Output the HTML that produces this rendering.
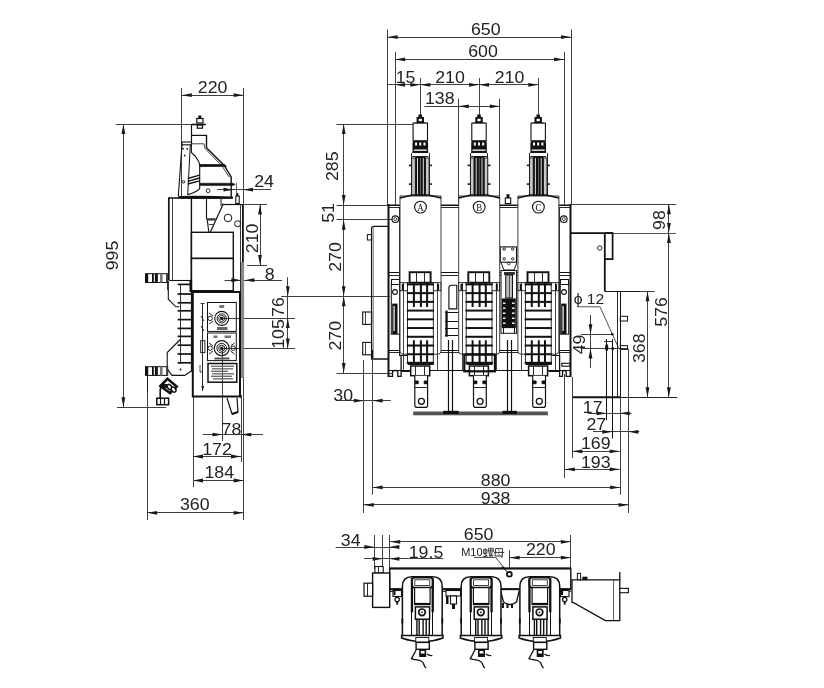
<!DOCTYPE html>
<html><head><meta charset="utf-8"><style>
html,body{margin:0;padding:0;background:#fff;}
svg{display:block;}
text{font-family:"Liberation Sans",sans-serif;}
</style></head><body>
<div style="will-change:transform;width:824px;height:688px"><svg width="824" height="688" viewBox="0 0 824 688">
<rect width="824" height="688" fill="#fff"/>
<line x1="181.5" y1="88" x2="181.5" y2="198" stroke="#404040" stroke-width="1.0"/>
<line x1="243.5" y1="88" x2="243.5" y2="520" stroke="#404040" stroke-width="1.0"/>
<line x1="181.8" y1="95.5" x2="243.7" y2="95.5" stroke="#404040" stroke-width="1.0"/>
<polygon points="181.8,95.2 191.8,93.3 191.8,97.1" fill="#1a1a1a"/>
<polygon points="243.7,95.2 233.7,93.3 233.7,97.1" fill="#1a1a1a"/>
<text transform="translate(212.6,92.5) scale(1.045,1)" x="0" y="0" text-anchor="middle" font-size="17" fill="#222">220</text>
<line x1="116" y1="124.5" x2="205" y2="124.5" stroke="#404040" stroke-width="1.0"/>
<line x1="117" y1="407.5" x2="166" y2="407.5" stroke="#404040" stroke-width="1.0"/>
<line x1="123.5" y1="124" x2="123.5" y2="407.3" stroke="#404040" stroke-width="1.0"/>
<polygon points="123.4,124.0 121.5,134.0 125.3,134.0" fill="#1a1a1a"/>
<polygon points="123.4,407.3 121.5,397.3 125.3,397.3" fill="#1a1a1a"/>
<text transform="translate(118.1,255.5) rotate(-90) scale(1.045,1)" x="0" y="0" text-anchor="middle" font-size="17" fill="#222">995</text>
<line x1="217" y1="189.5" x2="271" y2="189.5" stroke="#404040" stroke-width="1.0"/>
<polygon points="233.5,189.7 223.5,187.8 223.5,191.6" fill="#1a1a1a"/>
<polygon points="243.0,189.7 253.0,187.8 253.0,191.6" fill="#1a1a1a"/>
<text transform="translate(264,187.4) scale(1.045,1)" x="0" y="0" text-anchor="middle" font-size="17" fill="#222">24</text>
<line x1="241" y1="204.5" x2="267" y2="204.5" stroke="#404040" stroke-width="1.0"/>
<line x1="247" y1="265.5" x2="267" y2="265.5" stroke="#404040" stroke-width="1.0"/>
<line x1="260.5" y1="204.4" x2="260.5" y2="265" stroke="#404040" stroke-width="1.0"/>
<polygon points="260.0,204.4 258.1,214.4 261.9,214.4" fill="#1a1a1a"/>
<polygon points="260.0,265.0 258.1,255.0 261.9,255.0" fill="#1a1a1a"/>
<text transform="translate(258.2,238.4) rotate(-90) scale(1.045,1)" x="0" y="0" text-anchor="middle" font-size="17" fill="#222">210</text>
<line x1="224.5" y1="280.5" x2="282" y2="280.5" stroke="#404040" stroke-width="1.0"/>
<polygon points="241.3,280.2 231.3,278.3 231.3,282.1" fill="#1a1a1a"/>
<polygon points="244.4,280.2 254.4,278.3 254.4,282.1" fill="#1a1a1a"/>
<text transform="translate(269.8,280.2) scale(1.045,1)" x="0" y="0" text-anchor="middle" font-size="17" fill="#222">8</text>
<line x1="281.2" y1="296.5" x2="390" y2="296.5" stroke="#404040" stroke-width="1.0"/>
<line x1="222" y1="318.5" x2="295" y2="318.5" stroke="#404040" stroke-width="1.0"/>
<line x1="222" y1="348.5" x2="295" y2="348.5" stroke="#404040" stroke-width="1.0"/>
<line x1="287.5" y1="277.2" x2="287.5" y2="348.4" stroke="#404040" stroke-width="1.0"/>
<polygon points="287.8,296.2 285.9,286.2 289.7,286.2" fill="#1a1a1a"/>
<polygon points="287.8,318.1 285.9,328.1 289.7,328.1" fill="#1a1a1a"/>
<polygon points="287.8,348.4 285.9,338.4 289.7,338.4" fill="#1a1a1a"/>
<text transform="translate(284.2,307.1) rotate(-90) scale(1.045,1)" x="0" y="0" text-anchor="middle" font-size="17" fill="#222">76</text>
<text transform="translate(284.2,334) rotate(-90) scale(1.045,1)" x="0" y="0" text-anchor="middle" font-size="17" fill="#222">105</text>
<line x1="222.5" y1="348" x2="222.5" y2="441" stroke="#404040" stroke-width="1.0"/>
<line x1="202.8" y1="434.5" x2="262.9" y2="434.5" stroke="#404040" stroke-width="1.0"/>
<polygon points="222.5,434.6 212.5,432.7 212.5,436.5" fill="#1a1a1a"/>
<polygon points="241.3,434.6 251.3,432.7 251.3,436.5" fill="#1a1a1a"/>
<text transform="translate(231.4,434.6) scale(1.045,1)" x="0" y="0" text-anchor="middle" font-size="17" fill="#222">78</text>
<line x1="193.5" y1="397" x2="193.5" y2="487" stroke="#404040" stroke-width="1.0"/>
<line x1="241.5" y1="395" x2="241.5" y2="462" stroke="#404040" stroke-width="1.0"/>
<line x1="193" y1="456.5" x2="241" y2="456.5" stroke="#404040" stroke-width="1.0"/>
<polygon points="193.0,456.5 203.0,454.6 203.0,458.4" fill="#1a1a1a"/>
<polygon points="241.0,456.5 231.0,454.6 231.0,458.4" fill="#1a1a1a"/>
<text transform="translate(217,455.1) scale(1.045,1)" x="0" y="0" text-anchor="middle" font-size="17" fill="#222">172</text>
<line x1="193" y1="480.5" x2="243.7" y2="480.5" stroke="#404040" stroke-width="1.0"/>
<polygon points="193.0,480.5 203.0,478.6 203.0,482.4" fill="#1a1a1a"/>
<polygon points="243.7,480.5 233.7,478.6 233.7,482.4" fill="#1a1a1a"/>
<text transform="translate(219.2,478.0) scale(1.045,1)" x="0" y="0" text-anchor="middle" font-size="17" fill="#222">184</text>
<line x1="147.5" y1="376" x2="147.5" y2="520" stroke="#404040" stroke-width="1.0"/>
<line x1="147.1" y1="512.5" x2="243.7" y2="512.5" stroke="#404040" stroke-width="1.0"/>
<polygon points="147.1,512.8 157.1,510.9 157.1,514.7" fill="#1a1a1a"/>
<polygon points="243.7,512.8 233.7,510.9 233.7,514.7" fill="#1a1a1a"/>
<text transform="translate(194.7,509.7) scale(1.045,1)" x="0" y="0" text-anchor="middle" font-size="17" fill="#222">360</text>
<line x1="387.5" y1="29.5" x2="387.5" y2="205" stroke="#404040" stroke-width="1.0"/>
<line x1="571.5" y1="29.5" x2="571.5" y2="205" stroke="#404040" stroke-width="1.0"/>
<line x1="387.6" y1="37.5" x2="571" y2="37.5" stroke="#404040" stroke-width="1.0"/>
<polygon points="387.6,37.1 397.6,35.2 397.6,39.0" fill="#1a1a1a"/>
<polygon points="571.0,37.1 561.0,35.2 561.0,39.0" fill="#1a1a1a"/>
<text transform="translate(485.8,34.5) scale(1.045,1)" x="0" y="0" text-anchor="middle" font-size="17" fill="#222">650</text>
<line x1="395.5" y1="51.9" x2="395.5" y2="205" stroke="#404040" stroke-width="1.0"/>
<line x1="564.5" y1="51.9" x2="564.5" y2="205" stroke="#404040" stroke-width="1.0"/>
<line x1="395.1" y1="59.5" x2="564" y2="59.5" stroke="#404040" stroke-width="1.0"/>
<polygon points="395.1,59.4 405.1,57.5 405.1,61.3" fill="#1a1a1a"/>
<polygon points="564.0,59.4 554.0,57.5 554.0,61.3" fill="#1a1a1a"/>
<text transform="translate(483,56.8) scale(1.045,1)" x="0" y="0" text-anchor="middle" font-size="17" fill="#222">600</text>
<line x1="388" y1="84.5" x2="538.3" y2="84.5" stroke="#404040" stroke-width="1.0"/>
<line x1="420.5" y1="78" x2="420.5" y2="116" stroke="#404040" stroke-width="1.0"/>
<line x1="479.5" y1="78" x2="479.5" y2="116" stroke="#404040" stroke-width="1.0"/>
<line x1="538.5" y1="78" x2="538.5" y2="116" stroke="#404040" stroke-width="1.0"/>
<polygon points="395.1,84.8 405.1,82.9 405.1,86.7" fill="#1a1a1a"/>
<polygon points="420.3,84.8 410.3,82.9 410.3,86.7" fill="#1a1a1a"/>
<polygon points="420.3,84.8 430.3,82.9 430.3,86.7" fill="#1a1a1a"/>
<polygon points="479.0,84.8 469.0,82.9 469.0,86.7" fill="#1a1a1a"/>
<polygon points="479.0,84.8 489.0,82.9 489.0,86.7" fill="#1a1a1a"/>
<polygon points="538.3,84.8 528.3,82.9 528.3,86.7" fill="#1a1a1a"/>
<text transform="translate(405.6,82.8) scale(1.045,1)" x="0" y="0" text-anchor="middle" font-size="17" fill="#222">15</text>
<text transform="translate(450,82.8) scale(1.045,1)" x="0" y="0" text-anchor="middle" font-size="17" fill="#222">210</text>
<text transform="translate(509.5,82.8) scale(1.045,1)" x="0" y="0" text-anchor="middle" font-size="17" fill="#222">210</text>
<line x1="424.4" y1="106.5" x2="499.8" y2="106.5" stroke="#404040" stroke-width="1.0"/>
<line x1="458.5" y1="98.7" x2="458.5" y2="205" stroke="#404040" stroke-width="1.0"/>
<line x1="499.5" y1="98.7" x2="499.5" y2="205" stroke="#404040" stroke-width="1.0"/>
<polygon points="458.8,106.3 468.8,104.4 468.8,108.2" fill="#1a1a1a"/>
<polygon points="499.8,106.3 489.8,104.4 489.8,108.2" fill="#1a1a1a"/>
<text transform="translate(439.7,103.5) scale(1.045,1)" x="0" y="0" text-anchor="middle" font-size="17" fill="#222">138</text>
<line x1="336.5" y1="124.5" x2="417" y2="124.5" stroke="#404040" stroke-width="1.0"/>
<line x1="336.5" y1="205.5" x2="400" y2="205.5" stroke="#404040" stroke-width="1.0"/>
<line x1="336.5" y1="219.5" x2="392" y2="219.5" stroke="#404040" stroke-width="1.0"/>
<line x1="343.5" y1="124" x2="343.5" y2="373" stroke="#404040" stroke-width="1.0"/>
<polygon points="343.7,124.0 341.8,134.0 345.6,134.0" fill="#1a1a1a"/>
<polygon points="343.7,205.1 341.8,195.1 345.6,195.1" fill="#1a1a1a"/>
<polygon points="343.7,219.7 341.8,229.7 345.6,229.7" fill="#1a1a1a"/>
<polygon points="343.7,296.2 341.8,286.2 345.6,286.2" fill="#1a1a1a"/>
<polygon points="343.7,296.2 341.8,306.2 345.6,306.2" fill="#1a1a1a"/>
<polygon points="343.7,373.0 341.8,363.0 345.6,363.0" fill="#1a1a1a"/>
<line x1="336.5" y1="373.5" x2="392" y2="373.5" stroke="#404040" stroke-width="1.0"/>
<text transform="translate(338.2,166.3) rotate(-90) scale(1.045,1)" x="0" y="0" text-anchor="middle" font-size="17" fill="#222">285</text>
<text transform="translate(334.4,212.9) rotate(-90) scale(1.045,1)" x="0" y="0" text-anchor="middle" font-size="17" fill="#222">51</text>
<text transform="translate(341,257) rotate(-90) scale(1.045,1)" x="0" y="0" text-anchor="middle" font-size="17" fill="#222">270</text>
<text transform="translate(341,335.8) rotate(-90) scale(1.045,1)" x="0" y="0" text-anchor="middle" font-size="17" fill="#222">270</text>
<line x1="336" y1="400.5" x2="390.8" y2="400.5" stroke="#404040" stroke-width="1.0"/>
<line x1="363.5" y1="360" x2="363.5" y2="512.9" stroke="#404040" stroke-width="1.0"/>
<line x1="372.5" y1="360" x2="372.5" y2="494.7" stroke="#404040" stroke-width="1.0"/>
<polygon points="363.8,400.7 353.8,398.8 353.8,402.6" fill="#1a1a1a"/>
<polygon points="372.6,400.7 382.6,398.8 382.6,402.6" fill="#1a1a1a"/>
<text transform="translate(343.2,401.1) scale(1.045,1)" x="0" y="0" text-anchor="middle" font-size="17" fill="#222">30</text>
<line x1="372.6" y1="487.5" x2="620.1" y2="487.5" stroke="#404040" stroke-width="1.0"/>
<polygon points="372.6,487.4 382.6,485.5 382.6,489.3" fill="#1a1a1a"/>
<polygon points="620.1,487.4 610.1,485.5 610.1,489.3" fill="#1a1a1a"/>
<text transform="translate(495.6,485.6) scale(1.045,1)" x="0" y="0" text-anchor="middle" font-size="17" fill="#222">880</text>
<line x1="363.8" y1="504.5" x2="628.5" y2="504.5" stroke="#404040" stroke-width="1.0"/>
<polygon points="363.8,504.9 373.8,503.0 373.8,506.8" fill="#1a1a1a"/>
<polygon points="628.5,504.9 618.5,503.0 618.5,506.8" fill="#1a1a1a"/>
<text transform="translate(495.6,503.8) scale(1.045,1)" x="0" y="0" text-anchor="middle" font-size="17" fill="#222">938</text>
<line x1="570.3" y1="204.5" x2="676" y2="204.5" stroke="#404040" stroke-width="1.0"/>
<line x1="570.3" y1="233.5" x2="676" y2="233.5" stroke="#404040" stroke-width="0.9"/>
<line x1="668.5" y1="204.2" x2="668.5" y2="397.2" stroke="#404040" stroke-width="1.0"/>
<polygon points="668.9,204.2 667.0,214.2 670.8,214.2" fill="#1a1a1a"/>
<polygon points="668.9,233.1 667.0,223.1 670.8,223.1" fill="#1a1a1a"/>
<polygon points="668.9,233.1 667.0,243.1 670.8,243.1" fill="#1a1a1a"/>
<polygon points="668.9,397.2 667.0,387.2 670.8,387.2" fill="#1a1a1a"/>
<text transform="translate(665.2,220.1) rotate(-90) scale(1.045,1)" x="0" y="0" text-anchor="middle" font-size="17" fill="#222">98</text>
<text transform="translate(667.3,312) rotate(-90) scale(1.045,1)" x="0" y="0" text-anchor="middle" font-size="17" fill="#222">576</text>
<line x1="604.8" y1="291.5" x2="654.7" y2="291.5" stroke="#404040" stroke-width="1.0"/>
<line x1="647.5" y1="291.3" x2="647.5" y2="397.2" stroke="#404040" stroke-width="1.0"/>
<polygon points="647.5,291.3 645.6,301.3 649.4,301.3" fill="#1a1a1a"/>
<polygon points="647.5,397.2 645.6,387.2 649.4,387.2" fill="#1a1a1a"/>
<text transform="translate(644.5,348.3) rotate(-90) scale(1.045,1)" x="0" y="0" text-anchor="middle" font-size="17" fill="#222">368</text>
<line x1="572.3" y1="397.5" x2="677.3" y2="397.5" stroke="#222" stroke-width="1.0"/>
<line x1="572.3" y1="397.2" x2="620" y2="397.2" stroke="#111" stroke-width="2.0"/>
<text transform="translate(589,303.7) scale(1.045,1)" x="0" y="0" text-anchor="middle" font-size="15" fill="#222">&#981; 12</text>
<path d="M577.5,306.8 L600,306.8 L618.4,347.6" fill="none" stroke="#404040" stroke-width="0.9"/>
<line x1="580.7" y1="334.5" x2="613.3" y2="334.5" stroke="#404040" stroke-width="1.0"/>
<line x1="580.7" y1="348.5" x2="627" y2="348.5" stroke="#404040" stroke-width="1.0"/>
<line x1="590.5" y1="315" x2="590.5" y2="368" stroke="#404040" stroke-width="1.0"/>
<polygon points="590.5,334.3 588.6,324.3 592.4,324.3" fill="#1a1a1a"/>
<polygon points="590.5,348.6 588.6,358.6 592.4,358.6" fill="#1a1a1a"/>
<text transform="translate(584.5,344.5) rotate(-90) scale(1.045,1)" x="0" y="0" text-anchor="middle" font-size="17" fill="#222">49</text>
<line x1="620.5" y1="397" x2="620.5" y2="494.7" stroke="#404040" stroke-width="1.0"/>
<line x1="628.5" y1="349" x2="628.5" y2="512.9" stroke="#404040" stroke-width="1.0"/>
<line x1="564.5" y1="374" x2="564.5" y2="478" stroke="#404040" stroke-width="1.0"/>
<line x1="572.5" y1="377" x2="572.5" y2="458" stroke="#404040" stroke-width="1.0"/>
<line x1="587.9" y1="413.5" x2="631.5" y2="413.5" stroke="#404040" stroke-width="1.0"/>
<polygon points="606.7,413.3 596.7,411.4 596.7,415.2" fill="#1a1a1a"/>
<polygon points="619.7,413.3 629.7,411.4 629.7,415.2" fill="#1a1a1a"/>
<text transform="translate(592.7,412.6) scale(1.045,1)" x="0" y="0" text-anchor="middle" font-size="17" fill="#222">17</text>
<line x1="593" y1="431.5" x2="639.3" y2="431.5" stroke="#404040" stroke-width="1.0"/>
<polygon points="612.3,431.8 602.3,429.9 602.3,433.7" fill="#1a1a1a"/>
<polygon points="628.4,431.8 638.4,429.9 638.4,433.7" fill="#1a1a1a"/>
<text transform="translate(596.3,430.1) scale(1.045,1)" x="0" y="0" text-anchor="middle" font-size="17" fill="#222">27</text>
<line x1="572.3" y1="451.5" x2="619.7" y2="451.5" stroke="#404040" stroke-width="1.0"/>
<polygon points="572.3,451.3 582.3,449.4 582.3,453.2" fill="#1a1a1a"/>
<polygon points="619.7,451.3 609.7,449.4 609.7,453.2" fill="#1a1a1a"/>
<text transform="translate(595.8,448.6) scale(1.045,1)" x="0" y="0" text-anchor="middle" font-size="17" fill="#222">169</text>
<line x1="564.9" y1="469.5" x2="619.7" y2="469.5" stroke="#404040" stroke-width="1.0"/>
<polygon points="564.9,469.3 574.9,467.4 574.9,471.2" fill="#1a1a1a"/>
<polygon points="619.7,469.3 609.7,467.4 609.7,471.2" fill="#1a1a1a"/>
<text transform="translate(595.8,467.7) scale(1.045,1)" x="0" y="0" text-anchor="middle" font-size="17" fill="#222">193</text>
<line x1="390.2" y1="541.5" x2="570.8" y2="541.5" stroke="#404040" stroke-width="1.0"/>
<polygon points="390.2,541.8 400.2,539.9 400.2,543.7" fill="#1a1a1a"/>
<polygon points="570.8,541.8 560.8,539.9 560.8,543.7" fill="#1a1a1a"/>
<text transform="translate(478.6,540.4) scale(1.045,1)" x="0" y="0" text-anchor="middle" font-size="17" fill="#222">650</text>
<line x1="374.5" y1="535" x2="374.5" y2="569" stroke="#404040" stroke-width="1.0"/>
<line x1="382.5" y1="535" x2="382.5" y2="569" stroke="#404040" stroke-width="1.0"/>
<line x1="389.5" y1="535" x2="389.5" y2="569" stroke="#404040" stroke-width="1.0"/>
<line x1="570.5" y1="535" x2="570.5" y2="569" stroke="#404040" stroke-width="1.0"/>
<line x1="335.6" y1="547.5" x2="395" y2="547.5" stroke="#404040" stroke-width="1.0"/>
<polygon points="374.4,547.0 364.4,545.1 364.4,548.9" fill="#1a1a1a"/>
<polygon points="389.4,547.0 399.4,545.1 399.4,548.9" fill="#1a1a1a"/>
<text transform="translate(350.7,546.4) scale(1.045,1)" x="0" y="0" text-anchor="middle" font-size="17" fill="#222">34</text>
<line x1="363.9" y1="558.5" x2="442.9" y2="558.5" stroke="#404040" stroke-width="1.0"/>
<polygon points="382.7,558.8 372.7,556.9 372.7,560.7" fill="#1a1a1a"/>
<polygon points="389.4,558.8 399.4,556.9 399.4,560.7" fill="#1a1a1a"/>
<text transform="translate(426,558.4) scale(1.045,1)" x="0" y="0" text-anchor="middle" font-size="17" fill="#222">19.5</text>
<text transform="translate(461.2,556.1999999999999) scale(1.1,1)" x="0" y="0" text-anchor="start" font-size="10" fill="#222">M10</text>
<path d="M483.6,549.6 L486.8,549.6 L486.8,553.4 L483.6,553.4 Z M485.2,548.2 L485.2,557 M483.3,556.6 L487.2,555.8 M486.2,555 L487.3,556.6" fill="none" stroke="#2a2a2a" stroke-width="0.9"/>
<path d="M488.3,548.3 L493.3,548.3 L493.3,552 L488.3,552 Z M490.8,548.3 L490.8,552 M488.3,550.2 L493.3,550.2 M490.3,552.3 L488.8,553.9 L492.3,553.9 L489,555.6 L493.2,555.3 M490.8,555.4 L490.8,557.2 M489.2,556.8 L488.3,557.4 M492.3,556.5 L493.4,557.4" fill="none" stroke="#2a2a2a" stroke-width="0.85"/>
<path d="M495.6,548.6 L502.6,548.6 L502.2,557.2 L501,556.6 M495.6,548.6 L495,556 L502.2,556 M494,552.4 L504.2,552.4 M498.3,549.8 L499.6,551 M498.2,553.4 L499.5,554.8" fill="none" stroke="#2a2a2a" stroke-width="0.95"/>
<path d="M473.9,557.4 L495.6,557.4 L509.4,574.3" fill="none" stroke="#404040" stroke-width="1.0"/>
<rect x="501.5" y="566.8" width="2.5" height="2.7000000000000455" fill="#111"/>
<line x1="509.5" y1="550.3" x2="509.5" y2="568.8" stroke="#404040" stroke-width="1.0"/>
<line x1="509.6" y1="557.5" x2="570.8" y2="557.5" stroke="#404040" stroke-width="1.0"/>
<polygon points="509.6,557.7 519.6,555.8 519.6,559.6" fill="#1a1a1a"/>
<polygon points="570.8,557.7 560.8,555.8 560.8,559.6" fill="#1a1a1a"/>
<text transform="translate(540.7,555.4) scale(1.045,1)" x="0" y="0" text-anchor="middle" font-size="17" fill="#222">220</text>
<rect x="198.3" y="115.5" width="3.0" height="3.0" fill="#111"/>
<rect x="196.8" y="118.5" width="6.2" height="4.5" fill="#fff" stroke="#111" stroke-width="1.2" rx="0"/>
<rect x="197.3" y="125" width="5.2" height="3.2" fill="#fff" stroke="#111" stroke-width="1.2" rx="0"/>
<line x1="192" y1="124.5" x2="205.8" y2="124.5" stroke="#111" stroke-width="1.6"/>
<line x1="191.5" y1="124.5" x2="191.5" y2="143.4" stroke="#111" stroke-width="1.2"/>
<path d="M191.3,135.4 L206.5,135.4 L206.5,147.8 L224,165.2 L231.2,176.9 L231.2,197.2" fill="none" stroke="#111" stroke-width="1.4"/>
<path d="M191.3,143.8 L204,143.8 L205,148.5 L222,166 L229.5,177.5" fill="none" stroke="#111" stroke-width="0.8"/>
<rect x="182" y="142" width="9.4" height="2.8" fill="#fff" stroke="#111" stroke-width="1.1" rx="0"/>
<path d="M182,144.8 L178.3,196" fill="none" stroke="#111" stroke-width="1.1"/>
<path d="M190.3,144.8 L187.7,195" fill="none" stroke="#111" stroke-width="1.0"/>
<path d="M191.4,144.8 L191.4,152.5 Q196,156 198.7,161.4 L199.7,164.5 L199.7,188.6 Q196,192.5 187.7,194.6" fill="none" stroke="#111" stroke-width="1.1"/>
<circle cx="183.5" cy="181.8" r="1.3" fill="none" stroke="#111" stroke-width="0.9"/>
<rect x="182.3" y="148" width="1.5" height="1.5999999999999943" fill="#111"/>
<rect x="186.5" y="148" width="1.5" height="1.5999999999999943" fill="#111"/>
<rect x="183.9" y="154.8" width="1.5" height="1.5999999999999943" fill="#111"/>
<path d="M199.7,164.6 L224.5,164.6 L226.4,166.3 L199.7,166.6 Z" fill="#111" stroke="#111" stroke-width="0.8"/>
<path d="M199.7,183.2 L233,183.2 L235.2,184.4 L233,185.6 L199.7,185.6 Z" fill="#111" stroke="#111" stroke-width="0.5"/>
<path d="M178.3,196 Q205,195.5 232.7,196.5 L232.7,198.6 Q205,199 178.3,198.6 Z" fill="#111" stroke="none" stroke-width="1.0"/>
<line x1="187.7" y1="178.5" x2="199.7" y2="175.2" stroke="#111" stroke-width="1.3"/>
<line x1="187.7" y1="181.3" x2="199.7" y2="178" stroke="#111" stroke-width="1.3"/>
<line x1="187.7" y1="184" x2="199.7" y2="180.8" stroke="#111" stroke-width="1.3"/>
<circle cx="208.1" cy="190.7" r="1.9" fill="none" stroke="#111" stroke-width="0.9"/>
<line x1="236.5" y1="183" x2="236.5" y2="196" stroke="#404040" stroke-width="0.8"/>
<line x1="168.8" y1="197.4" x2="168.8" y2="280" stroke="#111" stroke-width="1.7"/>
<line x1="172.5" y1="197.4" x2="172.5" y2="280" stroke="#111" stroke-width="0.8"/>
<line x1="168.8" y1="198" x2="233" y2="198" stroke="#111" stroke-width="1.3"/>
<line x1="191.4" y1="198" x2="191.4" y2="290.7" stroke="#111" stroke-width="1.4"/>
<line x1="169" y1="280.5" x2="191.4" y2="280.5" stroke="#111" stroke-width="1.1"/>
<line x1="242.5" y1="204.4" x2="242.5" y2="290.7" stroke="#111" stroke-width="1.0"/>
<line x1="222" y1="204.5" x2="242" y2="204.5" stroke="#111" stroke-width="1.2"/>
<path d="M223.3,203.7 L210.3,232.3" fill="none" stroke="#111" stroke-width="1.2"/>
<path d="M206.5,199 L206.5,218.2 L207.3,220 L208.8,232.3" fill="none" stroke="#111" stroke-width="1.1"/>
<path d="M221,199 L221,206" fill="none" stroke="#111" stroke-width="1.0"/>
<path d="M206.8,218.2 L216,218.2 L215,220.5 L207.5,220.5 Z" fill="#333" stroke="none" stroke-width="1.0"/>
<line x1="209" y1="224.5" x2="213.5" y2="224.5" stroke="#111" stroke-width="0.8"/>
<circle cx="228" cy="217.9" r="3.8" fill="none" stroke="#111" stroke-width="1.0"/>
<circle cx="237.6" cy="223.7" r="3" fill="none" stroke="#111" stroke-width="1.0"/>
<rect x="236.7" y="193" width="1.6000000000000227" height="3" fill="#111"/>
<rect x="235.8" y="196" width="3.4" height="7.5" fill="#fff" stroke="#111" stroke-width="1.1" rx="0"/>
<rect x="191.4" y="232.3" width="41.9" height="26.1" fill="none" stroke="#111" stroke-width="1.4" rx="0"/>
<rect x="191.4" y="258.4" width="41.9" height="32.3" fill="none" stroke="#111" stroke-width="1.4" rx="0"/>
<line x1="233.5" y1="258.4" x2="233.5" y2="290.7" stroke="#111" stroke-width="1.1"/>
<rect x="240.2" y="262" width="3.9000000000000057" height="116" fill="#8a8a8a"/>
<line x1="243.5" y1="377" x2="243.5" y2="398" stroke="#444" stroke-width="1.0"/>
<line x1="240.5" y1="204" x2="240.5" y2="398" stroke="#222" stroke-width="0.9"/>
<rect x="145.5" y="273.7" width="22.2" height="8.800000000000011" fill="#fff" stroke="#111" stroke-width="1.0" rx="0"/>
<rect x="145.5" y="273.7" width="2.6999999999999886" height="8.800000000000011" fill="#111"/>
<rect x="152" y="273.7" width="1.8000000000000114" height="8.800000000000011" fill="#111"/>
<rect x="154.9" y="273.7" width="2.9000000000000057" height="8.800000000000011" fill="#111"/>
<rect x="160" y="273.7" width="2.5999999999999943" height="8.800000000000011" fill="#777"/>
<rect x="166" y="273.7" width="1.6999999999999886" height="8.800000000000011" fill="#444"/>
<line x1="167.5" y1="282" x2="167.5" y2="290" stroke="#111" stroke-width="0.8"/>
<path d="M168.3,280.7 L168.3,299.2 L175.9,306.8 L179.2,306.8" fill="none" stroke="#111" stroke-width="1.1"/>
<line x1="180.5" y1="284" x2="180.5" y2="364" stroke="#333" stroke-width="1.0"/>
<line x1="191.5" y1="280" x2="191.5" y2="372" stroke="#111" stroke-width="1.2"/>
<rect x="189.5" y="281" width="2.3000000000000114" height="11" fill="#111"/>
<line x1="177.6" y1="284.4" x2="191.2" y2="284.4" stroke="#111" stroke-width="1.7"/>
<line x1="177.6" y1="294" x2="191.2" y2="294" stroke="#111" stroke-width="1.7"/>
<line x1="177.6" y1="302.8" x2="191.2" y2="302.8" stroke="#111" stroke-width="1.7"/>
<line x1="177.6" y1="310.8" x2="191.2" y2="310.8" stroke="#111" stroke-width="1.7"/>
<line x1="177.6" y1="319.6" x2="191.2" y2="319.6" stroke="#111" stroke-width="1.7"/>
<line x1="177.6" y1="328.4" x2="191.2" y2="328.4" stroke="#111" stroke-width="1.7"/>
<line x1="177.6" y1="336.4" x2="191.2" y2="336.4" stroke="#111" stroke-width="1.7"/>
<line x1="177.6" y1="345.2" x2="191.2" y2="345.2" stroke="#111" stroke-width="1.7"/>
<line x1="177.6" y1="354" x2="191.2" y2="354" stroke="#111" stroke-width="1.7"/>
<line x1="177.6" y1="362.8" x2="191.2" y2="362.8" stroke="#111" stroke-width="1.7"/>
<path d="M180.3,339.5 L167.2,352.6 L167.2,368.9 L172,375.4 L184.7,375.4 L191.2,371" fill="none" stroke="#111" stroke-width="1.1"/>
<circle cx="180.5" cy="369.5" r="0.9" fill="#111" stroke="none" stroke-width="1.0"/>
<rect x="145.5" y="366.7" width="22.2" height="8.699999999999989" fill="#fff" stroke="#111" stroke-width="1.0" rx="0"/>
<rect x="145.5" y="366.7" width="2.6999999999999886" height="8.699999999999989" fill="#111"/>
<rect x="152" y="366.7" width="1.8000000000000114" height="8.699999999999989" fill="#111"/>
<rect x="154.9" y="366.7" width="2.9000000000000057" height="8.699999999999989" fill="#111"/>
<rect x="160" y="366.7" width="2.5999999999999943" height="8.699999999999989" fill="#777"/>
<rect x="166" y="366.7" width="1.6999999999999886" height="8.699999999999989" fill="#444"/>
<line x1="147.5" y1="376" x2="147.5" y2="392" stroke="#111" stroke-width="0.8"/>
<path d="M160.5,386 L167.5,378.7 L176.7,386.5 L170,393 Z" fill="#fff" stroke="#111" stroke-width="2.6"/>
<rect x="161" y="384" width="6" height="4" fill="#111"/>
<ellipse cx="169.5" cy="387" rx="2" ry="2.8" fill="#fff" stroke="#111" stroke-width="1.5" transform="rotate(-40 169.5 387)"/>
<ellipse cx="173.6" cy="389.6" rx="2" ry="2.8" fill="#fff" stroke="#111" stroke-width="1.5" transform="rotate(-40 173.6 389.6)"/>
<path d="M161,386 L160.2,390 L160.2,398.5" fill="none" stroke="#111" stroke-width="1.6"/>
<rect x="156.8" y="398.2" width="11.8" height="6.5" fill="#fff" stroke="#111" stroke-width="1.5" rx="0"/>
<line x1="160.5" y1="398.2" x2="160.5" y2="404.7" stroke="#111" stroke-width="1.2"/>
<line x1="164.5" y1="398.2" x2="164.5" y2="404.7" stroke="#111" stroke-width="1.2"/>
<rect x="192.8" y="292" width="47.2" height="104.5" fill="none" stroke="#111" stroke-width="2.0" rx="0"/>
<rect x="207.5" y="302.5" width="28.8" height="28.9" fill="none" stroke="#111" stroke-width="1.0" rx="0"/>
<rect x="207.5" y="333" width="28.8" height="27.6" fill="none" stroke="#111" stroke-width="1.0" rx="0"/>
<rect x="208" y="363.5" width="28.8" height="18.7" fill="none" stroke="#111" stroke-width="1.5" rx="0"/>
<line x1="211" y1="366.3" x2="234" y2="366.3" stroke="#666" stroke-width="1.3"/>
<line x1="212" y1="368.8" x2="233" y2="368.8" stroke="#666" stroke-width="1.3"/>
<line x1="211" y1="371.3" x2="228" y2="371.3" stroke="#666" stroke-width="1.3"/>
<line x1="212" y1="373.8" x2="234" y2="373.8" stroke="#666" stroke-width="1.3"/>
<line x1="211" y1="376.3" x2="232" y2="376.3" stroke="#666" stroke-width="1.3"/>
<line x1="213" y1="378.8" x2="233" y2="378.8" stroke="#666" stroke-width="1.3"/>
<circle cx="221.7" cy="318.4" r="7.0" fill="none" stroke="#111" stroke-width="1.1"/>
<circle cx="221.7" cy="318.4" r="4.6" fill="none" stroke="#111" stroke-width="1.0"/>
<circle cx="221.7" cy="318.4" r="3" fill="none" stroke="#111" stroke-width="0.9"/>
<rect x="220.2" y="316.9" width="3.0" height="3.0" fill="#111"/>
<circle cx="221.7" cy="348.2" r="7.5" fill="none" stroke="#111" stroke-width="1.2"/>
<circle cx="221.7" cy="348.2" r="4.8" fill="none" stroke="#111" stroke-width="1.0"/>
<circle cx="221.7" cy="348.2" r="3" fill="none" stroke="#111" stroke-width="0.9"/>
<rect x="220.2" y="346.7" width="3.0" height="3.0" fill="#111"/>
<circle cx="210.1" cy="318.4" r="2.2" fill="none" stroke="#111" stroke-width="0.9"/>
<circle cx="210.1" cy="348.2" r="2.2" fill="none" stroke="#111" stroke-width="0.9"/>
<circle cx="233.2" cy="348.2" r="2.2" fill="none" stroke="#111" stroke-width="0.9"/>
<path d="M209,313 L213,316 M209,324 L213,321 M209,343 L213,346 M209,354 L213,351 M234.5,343 L230.5,346 M234.5,354 L230.5,351" fill="none" stroke="#111" stroke-width="0.9"/>
<rect x="219.3" y="305" width="4.899999999999977" height="3" fill="#777"/>
<rect x="213.5" y="335.5" width="4.0" height="2.5" fill="#777"/>
<rect x="224.5" y="335.5" width="6.5" height="2.5" fill="#777"/>
<rect x="217" y="327" width="10.5" height="3" fill="#666"/>
<rect x="214.5" y="357.5" width="15.0" height="2.0" fill="#555"/>
<line x1="202.5" y1="303.6" x2="202.5" y2="390.7" stroke="#111" stroke-width="0.9"/>
<line x1="200.5" y1="303.5" x2="204.5" y2="303.5" stroke="#111" stroke-width="0.8"/>
<rect x="200.7" y="340.6" width="4.2" height="12" fill="none" stroke="#111" stroke-width="0.9" rx="0"/>
<path d="M201,316 L204,321 M201,326 L204,331" fill="none" stroke="#111" stroke-width="0.9"/>
<path d="M200,365 L200,372 L202.7,372" fill="none" stroke="#111" stroke-width="0.8"/>
<polygon points="202.7,391.0 201.3,386.0 204.1,386.0" fill="#1a1a1a"/>
<path d="M227,398 L232,414 L238,412 L237,398" fill="#fff" stroke="#111" stroke-width="1.2"/>
<line x1="232" y1="414" x2="238" y2="412" stroke="#111" stroke-width="2"/>
<line x1="388.5" y1="205.2" x2="570.5" y2="205.2" stroke="#111" stroke-width="1.6"/>
<line x1="388.5" y1="207.5" x2="570.5" y2="207.5" stroke="#111" stroke-width="0.9"/>
<line x1="388.5" y1="272.5" x2="570.5" y2="272.5" stroke="#111" stroke-width="1.0"/>
<line x1="388.5" y1="275.5" x2="570.5" y2="275.5" stroke="#111" stroke-width="0.9"/>
<line x1="388.5" y1="350.5" x2="570.5" y2="350.5" stroke="#111" stroke-width="1.0"/>
<line x1="388.5" y1="352.5" x2="570.5" y2="352.5" stroke="#111" stroke-width="0.9"/>
<line x1="388.5" y1="370.5" x2="570.5" y2="370.5" stroke="#111" stroke-width="1.0"/>
<line x1="388.5" y1="204" x2="388.5" y2="377" stroke="#111" stroke-width="2.0"/>
<line x1="399.5" y1="207" x2="399.5" y2="355.3" stroke="#111" stroke-width="0.9"/>
<line x1="570.5" y1="204" x2="570.5" y2="377" stroke="#111" stroke-width="2.0"/>
<line x1="559.5" y1="207" x2="559.5" y2="355.3" stroke="#111" stroke-width="0.9"/>
<path d="M388.5,376.4 L392.5,376.4 L392.5,372.5 Q392.5,370.5 394.5,370.5 L396,370.5 Q397.8,370.5 397.8,372.5 L397.8,376.4 L401.1,376.4 L401.1,355.3 L399.2,355.3" fill="none" stroke="#111" stroke-width="1.3"/>
<line x1="399.2" y1="355.5" x2="407.6" y2="355.5" stroke="#111" stroke-width="1.0"/>
<line x1="401.1" y1="371.5" x2="409.8" y2="371.5" stroke="#111" stroke-width="1.0"/>
<path d="M570.5,376.4 L566.2,376.4 L566.2,372.5 Q566.2,370.5 564.4,370.5 L564.3,370.5 Q562.5,370.5 562.5,372.5 L562.5,376.4 L559.6,376.4 L559.6,355.3 L559.5,355.3" fill="none" stroke="#111" stroke-width="1.3"/>
<line x1="551.6" y1="355.5" x2="559.6" y2="355.5" stroke="#111" stroke-width="1.0"/>
<line x1="548.7" y1="371.5" x2="559.6" y2="371.5" stroke="#111" stroke-width="1.0"/>
<rect x="561.8" y="363.3" width="8" height="2.9" fill="#fff" stroke="#111" stroke-width="1.1" rx="0"/>
<circle cx="395.3" cy="219.2" r="3.3" fill="none" stroke="#111" stroke-width="1.1"/>
<circle cx="395.3" cy="219.2" r="1.5" fill="none" stroke="#111" stroke-width="0.8"/>
<circle cx="563.8" cy="219.2" r="3.3" fill="none" stroke="#111" stroke-width="1.1"/>
<circle cx="563.8" cy="219.2" r="1.5" fill="none" stroke="#111" stroke-width="0.8"/>
<path d="M388.5,226.3 L374,226.3 Q371.6,226.3 371.6,228.7 L371.6,359 L388.5,359" fill="none" stroke="#111" stroke-width="1.3"/>
<line x1="373.5" y1="228" x2="373.5" y2="358" stroke="#555" stroke-width="0.6"/>
<rect x="367.4" y="234.6" width="4.2" height="5.4" fill="none" stroke="#111" stroke-width="1.0" rx="0"/>
<rect x="362.7" y="312" width="8.9" height="12.4" fill="none" stroke="#111" stroke-width="1.1" rx="0"/>
<line x1="365.5" y1="312" x2="365.5" y2="324.4" stroke="#111" stroke-width="0.8"/>
<rect x="362.7" y="342.4" width="8.9" height="12.4" fill="none" stroke="#111" stroke-width="1.1" rx="0"/>
<line x1="365.5" y1="342.4" x2="365.5" y2="354.8" stroke="#111" stroke-width="0.8"/>
<rect x="371.6" y="350" width="1.3999999999999773" height="8" fill="#111"/>
<rect x="391.3" y="284.4" width="8.4" height="49.8" fill="#fff" stroke="#111" stroke-width="1.0" rx="0"/>
<rect x="392.2" y="303.6" width="5.300000000000011" height="30.399999999999977" fill="#111"/>
<rect x="393.5" y="306" width="1.1999999999999886" height="25" fill="#fff"/>
<circle cx="395.0" cy="292" r="2.4" fill="#fff" stroke="#111" stroke-width="1.1"/>
<rect x="391.5" y="279.5" width="8" height="5" fill="#fff" stroke="#111" stroke-width="1.0" rx="0"/>
<rect x="560.3" y="284.4" width="8.4" height="49.8" fill="#fff" stroke="#111" stroke-width="1.0" rx="0"/>
<rect x="561.2" y="303.6" width="5.2999999999999545" height="30.399999999999977" fill="#111"/>
<rect x="562.5" y="306" width="1.2000000000000455" height="25" fill="#fff"/>
<circle cx="564.0" cy="292" r="2.4" fill="#fff" stroke="#111" stroke-width="1.1"/>
<rect x="560.5" y="279.5" width="8" height="5" fill="#fff" stroke="#111" stroke-width="1.0" rx="0"/>
<line x1="570.5" y1="233.1" x2="612.6" y2="233.1" stroke="#111" stroke-width="1.8"/>
<path d="M604.8,233.1 L612.6,233.1 L612.6,259.1 L604.8,259.1" fill="none" stroke="#111" stroke-width="1.7"/>
<line x1="604.8" y1="233.1" x2="604.8" y2="291.3" stroke="#111" stroke-width="1.8"/>
<circle cx="599.7" cy="248" r="2.2" fill="none" stroke="#111" stroke-width="0.9"/>
<line x1="604.8" y1="291.5" x2="640" y2="291.5" stroke="#111" stroke-width="0.9"/>
<line x1="617.5" y1="291.3" x2="617.5" y2="397" stroke="#111" stroke-width="0.9"/>
<line x1="620.5" y1="291.3" x2="620.5" y2="397" stroke="#111" stroke-width="1.0"/>
<line x1="606.5" y1="339" x2="606.5" y2="420" stroke="#111" stroke-width="1.0"/>
<line x1="612.5" y1="339" x2="612.5" y2="438.5" stroke="#111" stroke-width="1.0"/>
<rect x="620.3" y="316.3" width="7.2" height="4.7" fill="none" stroke="#111" stroke-width="1.0" rx="0"/>
<rect x="620.3" y="345.6" width="7.2" height="3.8" fill="none" stroke="#111" stroke-width="1.0" rx="0"/>
<ellipse cx="606.7" cy="347.5" rx="1.6" ry="3.6" fill="#111"/>
<circle cx="612.6" cy="348.6" r="1.5" fill="#111" stroke="none" stroke-width="1.0"/>
<circle cx="612.3" cy="334.3" r="1.3" fill="#111" stroke="none" stroke-width="1.0"/>
<line x1="604" y1="341.5" x2="612.4" y2="341.5" stroke="#111" stroke-width="0.8"/>
<rect x="413.2" y="411.5" width="134.7" height="3.8000000000000114" fill="#555"/>
<line x1="448.5" y1="340" x2="448.5" y2="411.5" stroke="#111" stroke-width="1.2"/>
<line x1="452.5" y1="340" x2="452.5" y2="411.5" stroke="#111" stroke-width="1.2"/>
<line x1="507.5" y1="340" x2="507.5" y2="411.5" stroke="#111" stroke-width="1.2"/>
<line x1="511.5" y1="340" x2="511.5" y2="411.5" stroke="#111" stroke-width="1.2"/>
<rect x="443.2" y="410.8" width="15.5" height="3.1999999999999886" fill="#111"/>
<rect x="502.4" y="410.8" width="14.600000000000023" height="3.1999999999999886" fill="#111"/>
<rect x="506.5" y="194.2" width="3.0" height="3.8000000000000114" fill="#111"/>
<rect x="505.3" y="198" width="5.4" height="5.6" fill="#fff" stroke="#111" stroke-width="1.1" rx="0"/>
<rect x="500.3" y="246.9" width="16.2" height="15.3" fill="#fff" stroke="#111" stroke-width="1.1" rx="0"/>
<circle cx="504.2" cy="249.1" r="1.2" fill="none" stroke="#111" stroke-width="0.9"/>
<circle cx="512.7" cy="249.1" r="1.2" fill="none" stroke="#111" stroke-width="0.9"/>
<circle cx="504.2" cy="258.8" r="1.2" fill="none" stroke="#111" stroke-width="0.9"/>
<circle cx="512.7" cy="258.8" r="1.2" fill="none" stroke="#111" stroke-width="0.9"/>
<circle cx="508.8" cy="263.5" r="1.3" fill="none" stroke="#111" stroke-width="0.8"/>
<rect x="501" y="270.5" width="15.6" height="62.8" fill="#fff" stroke="#111" stroke-width="1.0" rx="0"/>
<path d="M501,262.5 L504,270 L514,270 L517,262.5" fill="none" stroke="#111" stroke-width="1.0"/>
<rect x="504" y="272" width="10.799999999999955" height="3" fill="#333"/>
<rect x="505.7" y="275" width="6.8" height="22.9" fill="#bbb" stroke="#111" stroke-width="1.0" rx="0"/>
<line x1="509.5" y1="276" x2="509.5" y2="297" stroke="#555" stroke-width="1.0"/>
<rect x="501.8" y="298.4" width="13.999999999999943" height="29.700000000000045" fill="#111"/>
<rect x="503" y="302.5" width="2.5" height="1.3999999999999773" fill="#fff"/>
<rect x="512" y="302.5" width="2.6000000000000227" height="1.3999999999999773" fill="#fff"/>
<rect x="503" y="307.5" width="2.5" height="1.3999999999999773" fill="#fff"/>
<rect x="512" y="307.5" width="2.6000000000000227" height="1.3999999999999773" fill="#fff"/>
<rect x="503" y="312.5" width="2.5" height="1.3999999999999773" fill="#fff"/>
<rect x="512" y="312.5" width="2.6000000000000227" height="1.3999999999999773" fill="#fff"/>
<rect x="503" y="317.5" width="2.5" height="1.3999999999999773" fill="#fff"/>
<rect x="512" y="317.5" width="2.6000000000000227" height="1.3999999999999773" fill="#fff"/>
<rect x="503" y="322.5" width="2.5" height="1.3999999999999773" fill="#fff"/>
<rect x="512" y="322.5" width="2.6000000000000227" height="1.3999999999999773" fill="#fff"/>
<line x1="503.5" y1="328" x2="503.5" y2="333" stroke="#111" stroke-width="1"/>
<line x1="514.5" y1="328" x2="514.5" y2="333" stroke="#111" stroke-width="1"/>
<path d="M448.9,308.9 L448.9,288 Q448.9,285.3 451.6,285.3 L456.8,285.3 L456.8,308.9 Z" fill="#fff" stroke="#111" stroke-width="1.1"/>
<rect x="445.4" y="310.6" width="2.3000000000000114" height="26.19999999999999" fill="#111"/>
<line x1="445" y1="312.5" x2="458" y2="312.5" stroke="#111" stroke-width="1.0"/>
<line x1="445" y1="321.5" x2="458" y2="321.5" stroke="#111" stroke-width="1.0"/>
<line x1="445" y1="328.5" x2="458" y2="328.5" stroke="#111" stroke-width="1.0"/>
<line x1="445" y1="335.5" x2="458" y2="335.5" stroke="#111" stroke-width="1.0"/>
<line x1="420.5" y1="84.8" x2="420.5" y2="116" stroke="#404040" stroke-width="0.8"/>
<rect x="418.5" y="114.5" width="3.6000000000000227" height="2.5" fill="#111"/>
<rect x="416.6" y="117" width="7.399999999999977" height="6.099999999999994" fill="#111"/>
<rect x="418.7" y="118.8" width="3.2000000000000455" height="2.4000000000000057" fill="#fff"/>
<line x1="414.8" y1="123.1" x2="425.8" y2="123.1" stroke="#111" stroke-width="1.3"/>
<rect x="413.1" y="123.1" width="14.4" height="17.7" fill="#fff" stroke="#111" stroke-width="1.1" rx="0"/>
<path d="M412.5,153.2 L412.5,143 Q412.5,140.8 414.8,140.8 L425.8,140.8 Q428.1,140.8 428.1,143 L428.1,153.2 Z" fill="#111" stroke="none" stroke-width="1.0"/>
<rect x="415.1" y="142.5" width="2.0" height="3.0" fill="#fff"/>
<rect x="419.3" y="142.5" width="2.0" height="3.0" fill="#fff"/>
<rect x="423.5" y="142.5" width="2.0" height="3.0" fill="#fff"/>
<rect x="413.8" y="149.5" width="13.0" height="1.3000000000000114" fill="#fff"/>
<rect x="411.90000000000003" y="152.7" width="17.0" height="3.8000000000000114" fill="#fff"/>
<line x1="412.3" y1="152.5" x2="428.3" y2="152.5" stroke="#111" stroke-width="0.9"/>
<line x1="412.3" y1="156.5" x2="428.3" y2="156.5" stroke="#111" stroke-width="0.9"/>
<line x1="411.5" y1="153" x2="411.5" y2="197" stroke="#111" stroke-width="0.9"/>
<line x1="429.5" y1="153" x2="429.5" y2="197" stroke="#111" stroke-width="0.9"/>
<rect x="411.7" y="158" width="3.6" height="39" fill="#c8c8c8" stroke="#111" stroke-width="0.9" rx="0"/>
<rect x="425.5" y="158" width="3.6" height="39" fill="#c8c8c8" stroke="#111" stroke-width="0.9" rx="0"/>
<rect x="415.3" y="156.5" width="10.199999999999989" height="41.0" fill="#111"/>
<rect x="417.0" y="158" width="1.0" height="39" fill="#ddd"/>
<rect x="422.8" y="158" width="1.0" height="39" fill="#ddd"/>
<rect x="420.1" y="158" width="0.6999999999999886" height="39" fill="#888"/>
<line x1="408.90000000000003" y1="165.4" x2="411.7" y2="165.4" stroke="#111" stroke-width="1.6"/>
<line x1="429.1" y1="165.4" x2="431.90000000000003" y2="165.4" stroke="#111" stroke-width="1.6"/>
<line x1="408.90000000000003" y1="184.1" x2="411.7" y2="184.1" stroke="#111" stroke-width="1.6"/>
<line x1="429.1" y1="184.1" x2="431.90000000000003" y2="184.1" stroke="#111" stroke-width="1.6"/>
<path d="M400.0,196 L441.0,196 L441.0,351 Q441.0,354.2 437.8,354.2 L403.2,354.2 Q400.0,354.2 400.0,351 Z" fill="#fff" stroke="#3a3a3a" stroke-width="1.0"/>
<path d="M400.0,198 Q410.3,195.5 412.3,195 L428.3,195 Q430.3,195.5 441.0,198" fill="none" stroke="#111" stroke-width="1.6"/>
<circle cx="420.5" cy="207.1" r="5.9" fill="none" stroke="#111" stroke-width="1.1"/>
<rect x="400.0" y="282.7" width="40.9" height="8" fill="#fff" stroke="#111" stroke-width="0.9" rx="0"/>
<rect x="401.8" y="284" width="2.0" height="6" fill="#111"/>
<rect x="437.1" y="284" width="2.0" height="6" fill="#111"/>
<line x1="403.5" y1="282.7" x2="403.5" y2="370" stroke="#111" stroke-width="0.8"/>
<line x1="437.5" y1="282.7" x2="437.5" y2="370" stroke="#111" stroke-width="0.8"/>
<rect x="407.5" y="282.7" width="25.8" height="80.3" fill="#fff" stroke="#111" stroke-width="0.9" rx="0"/>
<rect x="409.6" y="272.2" width="21" height="10.5" fill="#fff" stroke="#111" stroke-width="1.9" rx="0"/>
<line x1="416.5" y1="272.2" x2="416.5" y2="282.7" stroke="#111" stroke-width="0.9"/>
<line x1="424.5" y1="272.2" x2="424.5" y2="282.7" stroke="#111" stroke-width="0.9"/>
<line x1="413.90000000000003" y1="282.7" x2="413.90000000000003" y2="307" stroke="#111" stroke-width="2.0"/>
<line x1="413.90000000000003" y1="340.3" x2="413.90000000000003" y2="363" stroke="#111" stroke-width="2.0"/>
<line x1="420.90000000000003" y1="282.7" x2="420.90000000000003" y2="307" stroke="#111" stroke-width="2.0"/>
<line x1="420.90000000000003" y1="340.3" x2="420.90000000000003" y2="363" stroke="#111" stroke-width="2.0"/>
<line x1="427.1" y1="282.7" x2="427.1" y2="307" stroke="#111" stroke-width="2.0"/>
<line x1="427.1" y1="340.3" x2="427.1" y2="363" stroke="#111" stroke-width="2.0"/>
<line x1="406.8" y1="284.4" x2="434.0" y2="284.4" stroke="#111" stroke-width="2.0"/>
<line x1="406.8" y1="293.13" x2="434.0" y2="293.13" stroke="#111" stroke-width="2.0"/>
<line x1="406.8" y1="301.85999999999996" x2="434.0" y2="301.85999999999996" stroke="#111" stroke-width="2.0"/>
<line x1="406.8" y1="310.59" x2="434.0" y2="310.59" stroke="#111" stroke-width="2.0"/>
<line x1="406.8" y1="319.32" x2="434.0" y2="319.32" stroke="#111" stroke-width="2.0"/>
<line x1="406.8" y1="328.04999999999995" x2="434.0" y2="328.04999999999995" stroke="#111" stroke-width="2.0"/>
<line x1="406.8" y1="336.78" x2="434.0" y2="336.78" stroke="#111" stroke-width="2.0"/>
<line x1="406.8" y1="345.51" x2="434.0" y2="345.51" stroke="#111" stroke-width="2.0"/>
<line x1="406.8" y1="354.24" x2="434.0" y2="354.24" stroke="#111" stroke-width="2.0"/>
<line x1="406.8" y1="362.96999999999997" x2="434.0" y2="362.96999999999997" stroke="#111" stroke-width="2.0"/>
<rect x="407.8" y="361.8" width="26.0" height="3.1999999999999886" fill="#111"/>
<rect x="410.7" y="366" width="19" height="9.7" fill="#fff" stroke="#111" stroke-width="1.5" rx="0"/>
<line x1="415.5" y1="366" x2="415.5" y2="375.7" stroke="#111" stroke-width="0.9"/>
<line x1="424.5" y1="366" x2="424.5" y2="375.7" stroke="#111" stroke-width="0.9"/>
<path d="M414.8,375.7 L414.8,405.2 Q414.8,407.4 417.0,407.4 L425.4,407.4 Q427.59999999999997,407.4 427.59999999999997,405.2 L427.59999999999997,375.7" fill="#fff" stroke="#111" stroke-width="1.2"/>
<path d="M414.8,381 L418.2,381 L418.2,383.7 L414.8,383.7 M427.59999999999997,381 L424.2,381 L424.2,383.7 L427.59999999999997,383.7" fill="#111" stroke="#111" stroke-width="1.0"/>
<line x1="414.8" y1="387.5" x2="427.59999999999997" y2="387.5" stroke="#111" stroke-width="0.9"/>
<circle cx="421.4" cy="401.3" r="3.0" fill="none" stroke="#111" stroke-width="1.3"/>
<text transform="translate(420.5,210.8) scale(0.85,1)" text-anchor="middle" font-size="10.5" fill="#111" style="font-family:'Liberation Serif',serif">A</text>
<line x1="479.5" y1="84.8" x2="479.5" y2="116" stroke="#404040" stroke-width="0.8"/>
<rect x="477.2" y="114.5" width="3.6000000000000227" height="2.5" fill="#111"/>
<rect x="475.3" y="117" width="7.399999999999977" height="6.099999999999994" fill="#111"/>
<rect x="477.4" y="118.8" width="3.2000000000000455" height="2.4000000000000057" fill="#fff"/>
<line x1="473.5" y1="123.1" x2="484.5" y2="123.1" stroke="#111" stroke-width="1.3"/>
<rect x="471.8" y="123.1" width="14.4" height="17.7" fill="#fff" stroke="#111" stroke-width="1.1" rx="0"/>
<path d="M471.2,153.2 L471.2,143 Q471.2,140.8 473.5,140.8 L484.5,140.8 Q486.8,140.8 486.8,143 L486.8,153.2 Z" fill="#111" stroke="none" stroke-width="1.0"/>
<rect x="473.8" y="142.5" width="2.0" height="3.0" fill="#fff"/>
<rect x="478.0" y="142.5" width="2.0" height="3.0" fill="#fff"/>
<rect x="482.2" y="142.5" width="2.0" height="3.0" fill="#fff"/>
<rect x="472.5" y="149.5" width="13.0" height="1.3000000000000114" fill="#fff"/>
<rect x="470.6" y="152.7" width="17.0" height="3.8000000000000114" fill="#fff"/>
<line x1="471.0" y1="152.5" x2="487.0" y2="152.5" stroke="#111" stroke-width="0.9"/>
<line x1="471.0" y1="156.5" x2="487.0" y2="156.5" stroke="#111" stroke-width="0.9"/>
<line x1="470.5" y1="153" x2="470.5" y2="197" stroke="#111" stroke-width="0.9"/>
<line x1="487.5" y1="153" x2="487.5" y2="197" stroke="#111" stroke-width="0.9"/>
<rect x="470.4" y="158" width="3.6" height="39" fill="#c8c8c8" stroke="#111" stroke-width="0.9" rx="0"/>
<rect x="484.2" y="158" width="3.6" height="39" fill="#c8c8c8" stroke="#111" stroke-width="0.9" rx="0"/>
<rect x="474.0" y="156.5" width="10.199999999999989" height="41.0" fill="#111"/>
<rect x="475.7" y="158" width="1.0" height="39" fill="#ddd"/>
<rect x="481.5" y="158" width="1.0" height="39" fill="#ddd"/>
<rect x="478.8" y="158" width="0.6999999999999886" height="39" fill="#888"/>
<line x1="467.6" y1="165.4" x2="470.4" y2="165.4" stroke="#111" stroke-width="1.6"/>
<line x1="487.8" y1="165.4" x2="490.6" y2="165.4" stroke="#111" stroke-width="1.6"/>
<line x1="467.6" y1="184.1" x2="470.4" y2="184.1" stroke="#111" stroke-width="1.6"/>
<line x1="487.8" y1="184.1" x2="490.6" y2="184.1" stroke="#111" stroke-width="1.6"/>
<path d="M458.7,196 L499.7,196 L499.7,351 Q499.7,354.2 496.5,354.2 L461.9,354.2 Q458.7,354.2 458.7,351 Z" fill="#fff" stroke="#3a3a3a" stroke-width="1.0"/>
<path d="M458.7,198 Q469.0,195.5 471.0,195 L487.0,195 Q489.0,195.5 499.7,198" fill="none" stroke="#111" stroke-width="1.6"/>
<circle cx="479.2" cy="207.1" r="5.9" fill="none" stroke="#111" stroke-width="1.1"/>
<rect x="458.7" y="282.7" width="40.9" height="8" fill="#fff" stroke="#111" stroke-width="0.9" rx="0"/>
<rect x="460.5" y="284" width="2.0" height="6" fill="#111"/>
<rect x="495.8" y="284" width="2.0" height="6" fill="#111"/>
<line x1="462.5" y1="282.7" x2="462.5" y2="370" stroke="#111" stroke-width="0.8"/>
<line x1="496.5" y1="282.7" x2="496.5" y2="370" stroke="#111" stroke-width="0.8"/>
<rect x="466.2" y="282.7" width="25.8" height="80.3" fill="#fff" stroke="#111" stroke-width="0.9" rx="0"/>
<rect x="468.3" y="272.2" width="21" height="10.5" fill="#fff" stroke="#111" stroke-width="1.9" rx="0"/>
<line x1="475.5" y1="272.2" x2="475.5" y2="282.7" stroke="#111" stroke-width="0.9"/>
<line x1="483.5" y1="272.2" x2="483.5" y2="282.7" stroke="#111" stroke-width="0.9"/>
<line x1="472.6" y1="282.7" x2="472.6" y2="307" stroke="#111" stroke-width="2.0"/>
<line x1="472.6" y1="340.3" x2="472.6" y2="363" stroke="#111" stroke-width="2.0"/>
<line x1="479.6" y1="282.7" x2="479.6" y2="307" stroke="#111" stroke-width="2.0"/>
<line x1="479.6" y1="340.3" x2="479.6" y2="363" stroke="#111" stroke-width="2.0"/>
<line x1="485.8" y1="282.7" x2="485.8" y2="307" stroke="#111" stroke-width="2.0"/>
<line x1="485.8" y1="340.3" x2="485.8" y2="363" stroke="#111" stroke-width="2.0"/>
<line x1="465.5" y1="284.4" x2="492.7" y2="284.4" stroke="#111" stroke-width="2.0"/>
<line x1="465.5" y1="293.13" x2="492.7" y2="293.13" stroke="#111" stroke-width="2.0"/>
<line x1="465.5" y1="301.85999999999996" x2="492.7" y2="301.85999999999996" stroke="#111" stroke-width="2.0"/>
<line x1="465.5" y1="310.59" x2="492.7" y2="310.59" stroke="#111" stroke-width="2.0"/>
<line x1="465.5" y1="319.32" x2="492.7" y2="319.32" stroke="#111" stroke-width="2.0"/>
<line x1="465.5" y1="328.04999999999995" x2="492.7" y2="328.04999999999995" stroke="#111" stroke-width="2.0"/>
<line x1="465.5" y1="336.78" x2="492.7" y2="336.78" stroke="#111" stroke-width="2.0"/>
<line x1="465.5" y1="345.51" x2="492.7" y2="345.51" stroke="#111" stroke-width="2.0"/>
<line x1="465.5" y1="354.24" x2="492.7" y2="354.24" stroke="#111" stroke-width="2.0"/>
<line x1="465.5" y1="362.96999999999997" x2="492.7" y2="362.96999999999997" stroke="#111" stroke-width="2.0"/>
<rect x="466.5" y="361.8" width="26.0" height="3.1999999999999886" fill="#111"/>
<rect x="469.4" y="366" width="19" height="9.7" fill="#fff" stroke="#111" stroke-width="1.5" rx="0"/>
<line x1="474.5" y1="366" x2="474.5" y2="375.7" stroke="#111" stroke-width="0.9"/>
<line x1="483.5" y1="366" x2="483.5" y2="375.7" stroke="#111" stroke-width="0.9"/>
<rect x="464.3" y="354.6" width="30.6" height="16.7" fill="none" stroke="#111" stroke-width="2.2" rx="0"/>
<path d="M473.5,375.7 L473.5,405.2 Q473.5,407.4 475.7,407.4 L484.09999999999997,407.4 Q486.29999999999995,407.4 486.29999999999995,405.2 L486.29999999999995,375.7" fill="#fff" stroke="#111" stroke-width="1.2"/>
<path d="M473.5,381 L476.9,381 L476.9,383.7 L473.5,383.7 M486.29999999999995,381 L482.9,381 L482.9,383.7 L486.29999999999995,383.7" fill="#111" stroke="#111" stroke-width="1.0"/>
<line x1="473.5" y1="387.5" x2="486.29999999999995" y2="387.5" stroke="#111" stroke-width="0.9"/>
<circle cx="480.09999999999997" cy="401.3" r="3.0" fill="none" stroke="#111" stroke-width="1.3"/>
<text transform="translate(479.2,210.8) scale(0.85,1)" text-anchor="middle" font-size="10.5" fill="#111" style="font-family:'Liberation Serif',serif">B</text>
<line x1="538.5" y1="84.8" x2="538.5" y2="116" stroke="#404040" stroke-width="0.8"/>
<rect x="536.4000000000001" y="114.5" width="3.599999999999909" height="2.5" fill="#111"/>
<rect x="534.5" y="117" width="7.400000000000091" height="6.099999999999994" fill="#111"/>
<rect x="536.6" y="118.8" width="3.2000000000000455" height="2.4000000000000057" fill="#fff"/>
<line x1="532.7" y1="123.1" x2="543.7" y2="123.1" stroke="#111" stroke-width="1.3"/>
<rect x="531.0" y="123.1" width="14.4" height="17.7" fill="#fff" stroke="#111" stroke-width="1.1" rx="0"/>
<path d="M530.4000000000001,153.2 L530.4000000000001,143 Q530.4000000000001,140.8 532.7,140.8 L543.7,140.8 Q546.0,140.8 546.0,143 L546.0,153.2 Z" fill="#111" stroke="none" stroke-width="1.0"/>
<rect x="533.0" y="142.5" width="2.0" height="3.0" fill="#fff"/>
<rect x="537.2" y="142.5" width="2.0" height="3.0" fill="#fff"/>
<rect x="541.4000000000001" y="142.5" width="2.0" height="3.0" fill="#fff"/>
<rect x="531.7" y="149.5" width="13.0" height="1.3000000000000114" fill="#fff"/>
<rect x="529.8000000000001" y="152.7" width="17.0" height="3.8000000000000114" fill="#fff"/>
<line x1="530.2" y1="152.5" x2="546.2" y2="152.5" stroke="#111" stroke-width="0.9"/>
<line x1="530.2" y1="156.5" x2="546.2" y2="156.5" stroke="#111" stroke-width="0.9"/>
<line x1="529.5" y1="153" x2="529.5" y2="197" stroke="#111" stroke-width="0.9"/>
<line x1="547.5" y1="153" x2="547.5" y2="197" stroke="#111" stroke-width="0.9"/>
<rect x="529.6" y="158" width="3.6" height="39" fill="#c8c8c8" stroke="#111" stroke-width="0.9" rx="0"/>
<rect x="543.4000000000001" y="158" width="3.6" height="39" fill="#c8c8c8" stroke="#111" stroke-width="0.9" rx="0"/>
<rect x="533.2" y="156.5" width="10.200000000000045" height="41.0" fill="#111"/>
<rect x="534.9000000000001" y="158" width="1.0" height="39" fill="#ddd"/>
<rect x="540.7" y="158" width="1.0" height="39" fill="#ddd"/>
<rect x="538.0" y="158" width="0.7000000000000455" height="39" fill="#888"/>
<line x1="526.8000000000001" y1="165.4" x2="529.6" y2="165.4" stroke="#111" stroke-width="1.6"/>
<line x1="547.0" y1="165.4" x2="549.8000000000001" y2="165.4" stroke="#111" stroke-width="1.6"/>
<line x1="526.8000000000001" y1="184.1" x2="529.6" y2="184.1" stroke="#111" stroke-width="1.6"/>
<line x1="547.0" y1="184.1" x2="549.8000000000001" y2="184.1" stroke="#111" stroke-width="1.6"/>
<path d="M517.9000000000001,196 L558.9000000000001,196 L558.9000000000001,351 Q558.9000000000001,354.2 555.7,354.2 L521.1,354.2 Q517.9000000000001,354.2 517.9000000000001,351 Z" fill="#fff" stroke="#3a3a3a" stroke-width="1.0"/>
<path d="M517.9000000000001,198 Q528.2,195.5 530.2,195 L546.2,195 Q548.2,195.5 558.9000000000001,198" fill="none" stroke="#111" stroke-width="1.6"/>
<circle cx="538.4000000000001" cy="207.1" r="5.9" fill="none" stroke="#111" stroke-width="1.1"/>
<rect x="517.9000000000001" y="282.7" width="40.9" height="8" fill="#fff" stroke="#111" stroke-width="0.9" rx="0"/>
<rect x="519.7" y="284" width="2.0" height="6" fill="#111"/>
<rect x="555.0" y="284" width="2.0" height="6" fill="#111"/>
<line x1="521.5" y1="282.7" x2="521.5" y2="370" stroke="#111" stroke-width="0.8"/>
<line x1="555.5" y1="282.7" x2="555.5" y2="370" stroke="#111" stroke-width="0.8"/>
<rect x="525.4000000000001" y="282.7" width="25.8" height="80.3" fill="#fff" stroke="#111" stroke-width="0.9" rx="0"/>
<rect x="527.5" y="272.2" width="21" height="10.5" fill="#fff" stroke="#111" stroke-width="1.9" rx="0"/>
<line x1="534.5" y1="272.2" x2="534.5" y2="282.7" stroke="#111" stroke-width="0.9"/>
<line x1="542.5" y1="272.2" x2="542.5" y2="282.7" stroke="#111" stroke-width="0.9"/>
<line x1="531.8000000000001" y1="282.7" x2="531.8000000000001" y2="307" stroke="#111" stroke-width="2.0"/>
<line x1="531.8000000000001" y1="340.3" x2="531.8000000000001" y2="363" stroke="#111" stroke-width="2.0"/>
<line x1="538.8000000000001" y1="282.7" x2="538.8000000000001" y2="307" stroke="#111" stroke-width="2.0"/>
<line x1="538.8000000000001" y1="340.3" x2="538.8000000000001" y2="363" stroke="#111" stroke-width="2.0"/>
<line x1="545.0" y1="282.7" x2="545.0" y2="307" stroke="#111" stroke-width="2.0"/>
<line x1="545.0" y1="340.3" x2="545.0" y2="363" stroke="#111" stroke-width="2.0"/>
<line x1="524.7" y1="284.4" x2="551.9000000000001" y2="284.4" stroke="#111" stroke-width="2.0"/>
<line x1="524.7" y1="293.13" x2="551.9000000000001" y2="293.13" stroke="#111" stroke-width="2.0"/>
<line x1="524.7" y1="301.85999999999996" x2="551.9000000000001" y2="301.85999999999996" stroke="#111" stroke-width="2.0"/>
<line x1="524.7" y1="310.59" x2="551.9000000000001" y2="310.59" stroke="#111" stroke-width="2.0"/>
<line x1="524.7" y1="319.32" x2="551.9000000000001" y2="319.32" stroke="#111" stroke-width="2.0"/>
<line x1="524.7" y1="328.04999999999995" x2="551.9000000000001" y2="328.04999999999995" stroke="#111" stroke-width="2.0"/>
<line x1="524.7" y1="336.78" x2="551.9000000000001" y2="336.78" stroke="#111" stroke-width="2.0"/>
<line x1="524.7" y1="345.51" x2="551.9000000000001" y2="345.51" stroke="#111" stroke-width="2.0"/>
<line x1="524.7" y1="354.24" x2="551.9000000000001" y2="354.24" stroke="#111" stroke-width="2.0"/>
<line x1="524.7" y1="362.96999999999997" x2="551.9000000000001" y2="362.96999999999997" stroke="#111" stroke-width="2.0"/>
<rect x="525.7" y="361.8" width="26.0" height="3.1999999999999886" fill="#111"/>
<rect x="528.6" y="366" width="19" height="9.7" fill="#fff" stroke="#111" stroke-width="1.5" rx="0"/>
<line x1="533.5" y1="366" x2="533.5" y2="375.7" stroke="#111" stroke-width="0.9"/>
<line x1="542.5" y1="366" x2="542.5" y2="375.7" stroke="#111" stroke-width="0.9"/>
<path d="M532.7,375.7 L532.7,405.2 Q532.7,407.4 534.9,407.4 L543.3000000000001,407.4 Q545.5,407.4 545.5,405.2 L545.5,375.7" fill="#fff" stroke="#111" stroke-width="1.2"/>
<path d="M532.7,381 L536.1,381 L536.1,383.7 L532.7,383.7 M545.5,381 L542.1,381 L542.1,383.7 L545.5,383.7" fill="#111" stroke="#111" stroke-width="1.0"/>
<line x1="532.7" y1="387.5" x2="545.5" y2="387.5" stroke="#111" stroke-width="0.9"/>
<circle cx="539.3000000000001" cy="401.3" r="3.0" fill="none" stroke="#111" stroke-width="1.3"/>
<text transform="translate(538.4000000000001,210.8) scale(0.85,1)" text-anchor="middle" font-size="10.5" fill="#111" style="font-family:'Liberation Serif',serif">C</text>
<rect x="374.9" y="566.5" width="8.300000000000011" height="6.5" fill="#fff"/>
<rect x="374.9" y="566.5" width="8.3" height="6.5" fill="none" stroke="#111" stroke-width="1.1" rx="0"/>
<line x1="378.5" y1="566.5" x2="378.5" y2="573" stroke="#111" stroke-width="0.9"/>
<rect x="389.7" y="568.4" width="181.1" height="21.2" fill="#fff" stroke="#111" stroke-width="1.4" rx="0"/>
<line x1="389.7" y1="568.6" x2="570.8" y2="568.6" stroke="#111" stroke-width="2.0"/>
<line x1="389.7" y1="588.5" x2="570.8" y2="588.5" stroke="#111" stroke-width="0.9"/>
<line x1="389.7" y1="591.5" x2="570.8" y2="591.5" stroke="#111" stroke-width="0.9"/>
<rect x="372.6" y="573" width="17.1" height="34.4" fill="#fff" stroke="#111" stroke-width="1.4" rx="0"/>
<rect x="364" y="583.2" width="8.6" height="13" fill="#fff" stroke="#111" stroke-width="1.2" rx="0"/>
<line x1="367.5" y1="583.2" x2="367.5" y2="596.2" stroke="#111" stroke-width="0.9"/>
<path d="M572,579.8 L614,579.8 L614,620.6 L605.4,620.6 L573.1,602.4 L572,602.4 Z" fill="#fff" stroke="#111" stroke-width="1.3"/>
<path d="M614,579.8 L619.8,579.8 L619.8,620.6 L614,620.6" fill="#fff" stroke="#111" stroke-width="1.3"/>
<line x1="619.8" y1="572" x2="619.8" y2="580" stroke="#111" stroke-width="1.3"/>
<rect x="619.8" y="588.4" width="8.6" height="4.3" fill="#fff" stroke="#111" stroke-width="1.1" rx="0"/>
<rect x="577.4" y="573.3" width="3.2" height="6.5" fill="#fff" stroke="#111" stroke-width="1.0" rx="0"/>
<rect x="582.8" y="577" width="4.3" height="2.8" fill="#111" stroke="#111" stroke-width="0.6" rx="0"/>
<rect x="393" y="590.5" width="8.5" height="6" fill="#fff" stroke="#111" stroke-width="1.1" rx="0"/>
<circle cx="397.2" cy="599.5" r="2.2" fill="#fff" stroke="#111" stroke-width="1.2"/>
<rect x="396.2" y="601.5" width="2.0" height="3.0" fill="#111"/>
<rect x="393.5" y="591" width="2.0" height="4" fill="#111"/>
<rect x="560.5" y="590.5" width="8.5" height="6" fill="#fff" stroke="#111" stroke-width="1.1" rx="0"/>
<circle cx="564.7" cy="599.5" r="2.2" fill="#fff" stroke="#111" stroke-width="1.2"/>
<rect x="563.7" y="601.5" width="2.0" height="3.0" fill="#111"/>
<rect x="561.0" y="591" width="2.0" height="4" fill="#111"/>
<rect x="446" y="590.5" width="14.5" height="5.5" fill="#fff" stroke="#111" stroke-width="1.1" rx="0"/>
<rect x="450.5" y="596" width="6" height="8" fill="#fff" stroke="#111" stroke-width="1.1" rx="0"/>
<rect x="446" y="596" width="2.5" height="8" fill="#111"/>
<rect x="452" y="604" width="3" height="5" fill="#111"/>
<path d="M500.5,590.5 L503.5,602 Q510,607 516.5,602 L519.3,590.5" fill="#fff" stroke="#111" stroke-width="1.3"/>
<rect x="502" y="603" width="2" height="5" fill="#111"/>
<rect x="506.5" y="604" width="2.0" height="4" fill="#111"/>
<rect x="511" y="604" width="2" height="4" fill="#111"/>
<path d="M402.40000000000003,635.4 L402.40000000000003,586.5 Q402.40000000000003,576.8 412.1,576.8 L432.5,576.8 Q442.2,576.8 442.2,586.5 L442.2,635.4" fill="#fff" stroke="#111" stroke-width="1.5"/>
<path d="M401.6,635.4 L443.0,635.4 L443.0,638 Q422.3,645.5 401.6,638 Z" fill="#fff" stroke="#111" stroke-width="1.5"/>
<rect x="415.8" y="637.5" width="13" height="4.6" fill="#fff" stroke="#111" stroke-width="0.9" rx="0"/>
<rect x="401.40000000000003" y="618.5" width="1.8000000000000114" height="5.0" fill="#111"/>
<rect x="441.4" y="618.5" width="1.8000000000000114" height="5.0" fill="#111"/>
<rect x="410.8" y="578.3" width="2.3000000000000114" height="34.0" fill="#111"/>
<rect x="431.6" y="578.3" width="2.3000000000000114" height="34.0" fill="#111"/>
<line x1="411.5" y1="612" x2="411.5" y2="635.4" stroke="#111" stroke-width="1.0"/>
<line x1="432.5" y1="612" x2="432.5" y2="635.4" stroke="#111" stroke-width="1.0"/>
<rect x="412.0" y="577.6" width="20.6" height="10" fill="#fff" stroke="#111" stroke-width="1.9" rx="2.5"/>
<rect x="414.8" y="579.8" width="15" height="5.6" fill="#fff" stroke="#111" stroke-width="0.8" rx="0"/>
<rect x="414.6" y="587.6" width="15.5" height="17" fill="#fff" stroke="#111" stroke-width="1.2" rx="0"/>
<line x1="414.6" y1="603.5" x2="430.1" y2="603.5" stroke="#111" stroke-width="1.2"/>
<rect x="415.40000000000003" y="606.9" width="14.2" height="12.3" fill="#fff" stroke="#111" stroke-width="1.5" rx="0"/>
<circle cx="422.0" cy="612.3" r="3.3" fill="none" stroke="#111" stroke-width="1.7"/>
<circle cx="422.0" cy="612.3" r="0.9" fill="#111" stroke="none" stroke-width="1.0"/>
<line x1="416.90000000000003" y1="619.2" x2="416.90000000000003" y2="635.4" stroke="#111" stroke-width="1.4"/>
<line x1="419.2" y1="619.2" x2="419.2" y2="635.4" stroke="#111" stroke-width="1.4"/>
<line x1="423.1" y1="619.2" x2="423.1" y2="635.4" stroke="#111" stroke-width="1.4"/>
<line x1="426.2" y1="619.2" x2="426.2" y2="635.4" stroke="#111" stroke-width="1.4"/>
<line x1="429.3" y1="619.2" x2="429.3" y2="635.4" stroke="#111" stroke-width="1.4"/>
<rect x="416.1" y="642.4" width="13.2" height="6.9" fill="#fff" stroke="#111" stroke-width="1.4" rx="0"/>
<rect x="419.2" y="649.3" width="7.0" height="7.7000000000000455" fill="#111"/>
<rect x="420.8" y="651" width="3.8000000000000114" height="2.5" fill="#fff"/>
<path d="M416.1,650 L411.5,658.6 L413.8,659.4 Q421.3,660 423.3,663 Q424.8,667.5 426.2,667.9" fill="none" stroke="#111" stroke-width="1.3"/>
<path d="M427.0,654 Q429.3,656 432.40000000000003,655.5" fill="none" stroke="#111" stroke-width="1.2"/>
<path d="M461.20000000000005,635.4 L461.20000000000005,586.5 Q461.20000000000005,576.8 470.90000000000003,576.8 L491.3,576.8 Q501.0,576.8 501.0,586.5 L501.0,635.4" fill="#fff" stroke="#111" stroke-width="1.5"/>
<path d="M460.40000000000003,635.4 L501.8,635.4 L501.8,638 Q481.1,645.5 460.40000000000003,638 Z" fill="#fff" stroke="#111" stroke-width="1.5"/>
<rect x="474.6" y="637.5" width="13" height="4.6" fill="#fff" stroke="#111" stroke-width="0.9" rx="0"/>
<rect x="460.20000000000005" y="618.5" width="1.8000000000000114" height="5.0" fill="#111"/>
<rect x="500.2" y="618.5" width="1.8000000000000114" height="5.0" fill="#111"/>
<rect x="469.6" y="578.3" width="2.3000000000000114" height="34.0" fill="#111"/>
<rect x="490.40000000000003" y="578.3" width="2.3000000000000114" height="34.0" fill="#111"/>
<line x1="470.5" y1="612" x2="470.5" y2="635.4" stroke="#111" stroke-width="1.0"/>
<line x1="491.5" y1="612" x2="491.5" y2="635.4" stroke="#111" stroke-width="1.0"/>
<rect x="470.8" y="577.6" width="20.6" height="10" fill="#fff" stroke="#111" stroke-width="1.9" rx="2.5"/>
<rect x="473.6" y="579.8" width="15" height="5.6" fill="#fff" stroke="#111" stroke-width="0.8" rx="0"/>
<rect x="473.40000000000003" y="587.6" width="15.5" height="17" fill="#fff" stroke="#111" stroke-width="1.2" rx="0"/>
<line x1="473.40000000000003" y1="603.5" x2="488.90000000000003" y2="603.5" stroke="#111" stroke-width="1.2"/>
<rect x="474.20000000000005" y="606.9" width="14.2" height="12.3" fill="#fff" stroke="#111" stroke-width="1.5" rx="0"/>
<circle cx="480.8" cy="612.3" r="3.3" fill="none" stroke="#111" stroke-width="1.7"/>
<circle cx="480.8" cy="612.3" r="0.9" fill="#111" stroke="none" stroke-width="1.0"/>
<line x1="475.70000000000005" y1="619.2" x2="475.70000000000005" y2="635.4" stroke="#111" stroke-width="1.4"/>
<line x1="478.0" y1="619.2" x2="478.0" y2="635.4" stroke="#111" stroke-width="1.4"/>
<line x1="481.90000000000003" y1="619.2" x2="481.90000000000003" y2="635.4" stroke="#111" stroke-width="1.4"/>
<line x1="485.0" y1="619.2" x2="485.0" y2="635.4" stroke="#111" stroke-width="1.4"/>
<line x1="488.1" y1="619.2" x2="488.1" y2="635.4" stroke="#111" stroke-width="1.4"/>
<rect x="474.90000000000003" y="642.4" width="13.2" height="6.9" fill="#fff" stroke="#111" stroke-width="1.4" rx="0"/>
<rect x="478.0" y="649.3" width="7.0" height="7.7000000000000455" fill="#111"/>
<rect x="479.6" y="651" width="3.8000000000000114" height="2.5" fill="#fff"/>
<path d="M474.90000000000003,650 L470.3,658.6 L472.6,659.4 Q480.1,660 482.1,663 Q483.6,667.5 485.0,667.9" fill="none" stroke="#111" stroke-width="1.3"/>
<path d="M485.8,654 Q488.1,656 491.20000000000005,655.5" fill="none" stroke="#111" stroke-width="1.2"/>
<path d="M519.9,635.4 L519.9,586.5 Q519.9,576.8 529.6,576.8 L549.9999999999999,576.8 Q559.6999999999999,576.8 559.6999999999999,586.5 L559.6999999999999,635.4" fill="#fff" stroke="#111" stroke-width="1.5"/>
<path d="M519.1,635.4 L560.4999999999999,635.4 L560.4999999999999,638 Q539.8,645.5 519.1,638 Z" fill="#fff" stroke="#111" stroke-width="1.5"/>
<rect x="533.3" y="637.5" width="13" height="4.6" fill="#fff" stroke="#111" stroke-width="0.9" rx="0"/>
<rect x="518.9" y="618.5" width="1.7999999999999545" height="5.0" fill="#111"/>
<rect x="558.9" y="618.5" width="1.7999999999999545" height="5.0" fill="#111"/>
<rect x="528.3" y="578.3" width="2.2999999999999545" height="34.0" fill="#111"/>
<rect x="549.0999999999999" y="578.3" width="2.300000000000068" height="34.0" fill="#111"/>
<line x1="529.5" y1="612" x2="529.5" y2="635.4" stroke="#111" stroke-width="1.0"/>
<line x1="550.5" y1="612" x2="550.5" y2="635.4" stroke="#111" stroke-width="1.0"/>
<rect x="529.5" y="577.6" width="20.6" height="10" fill="#fff" stroke="#111" stroke-width="1.9" rx="2.5"/>
<rect x="532.3" y="579.8" width="15" height="5.6" fill="#fff" stroke="#111" stroke-width="0.8" rx="0"/>
<rect x="532.0999999999999" y="587.6" width="15.5" height="17" fill="#fff" stroke="#111" stroke-width="1.2" rx="0"/>
<line x1="532.0999999999999" y1="603.5" x2="547.5999999999999" y2="603.5" stroke="#111" stroke-width="1.2"/>
<rect x="532.9" y="606.9" width="14.2" height="12.3" fill="#fff" stroke="#111" stroke-width="1.5" rx="0"/>
<circle cx="539.5" cy="612.3" r="3.3" fill="none" stroke="#111" stroke-width="1.7"/>
<circle cx="539.5" cy="612.3" r="0.9" fill="#111" stroke="none" stroke-width="1.0"/>
<line x1="534.4" y1="619.2" x2="534.4" y2="635.4" stroke="#111" stroke-width="1.4"/>
<line x1="536.6999999999999" y1="619.2" x2="536.6999999999999" y2="635.4" stroke="#111" stroke-width="1.4"/>
<line x1="540.5999999999999" y1="619.2" x2="540.5999999999999" y2="635.4" stroke="#111" stroke-width="1.4"/>
<line x1="543.6999999999999" y1="619.2" x2="543.6999999999999" y2="635.4" stroke="#111" stroke-width="1.4"/>
<line x1="546.8" y1="619.2" x2="546.8" y2="635.4" stroke="#111" stroke-width="1.4"/>
<rect x="533.5999999999999" y="642.4" width="13.2" height="6.9" fill="#fff" stroke="#111" stroke-width="1.4" rx="0"/>
<rect x="536.6999999999999" y="649.3" width="7.0" height="7.7000000000000455" fill="#111"/>
<rect x="538.3" y="651" width="3.7999999999999545" height="2.5" fill="#fff"/>
<path d="M533.5999999999999,650 L529.0,658.6 L531.3,659.4 Q538.8,660 540.8,663 Q542.3,667.5 543.6999999999999,667.9" fill="none" stroke="#111" stroke-width="1.3"/>
<path d="M544.5,654 Q546.8,656 549.9,655.5" fill="none" stroke="#111" stroke-width="1.2"/>
<line x1="502" y1="567" x2="508" y2="572.6" stroke="#111" stroke-width="1.0"/>
<circle cx="509.4" cy="574.3" r="2.4" fill="#fff" stroke="#111" stroke-width="1.8"/>
</svg></div></body></html>
